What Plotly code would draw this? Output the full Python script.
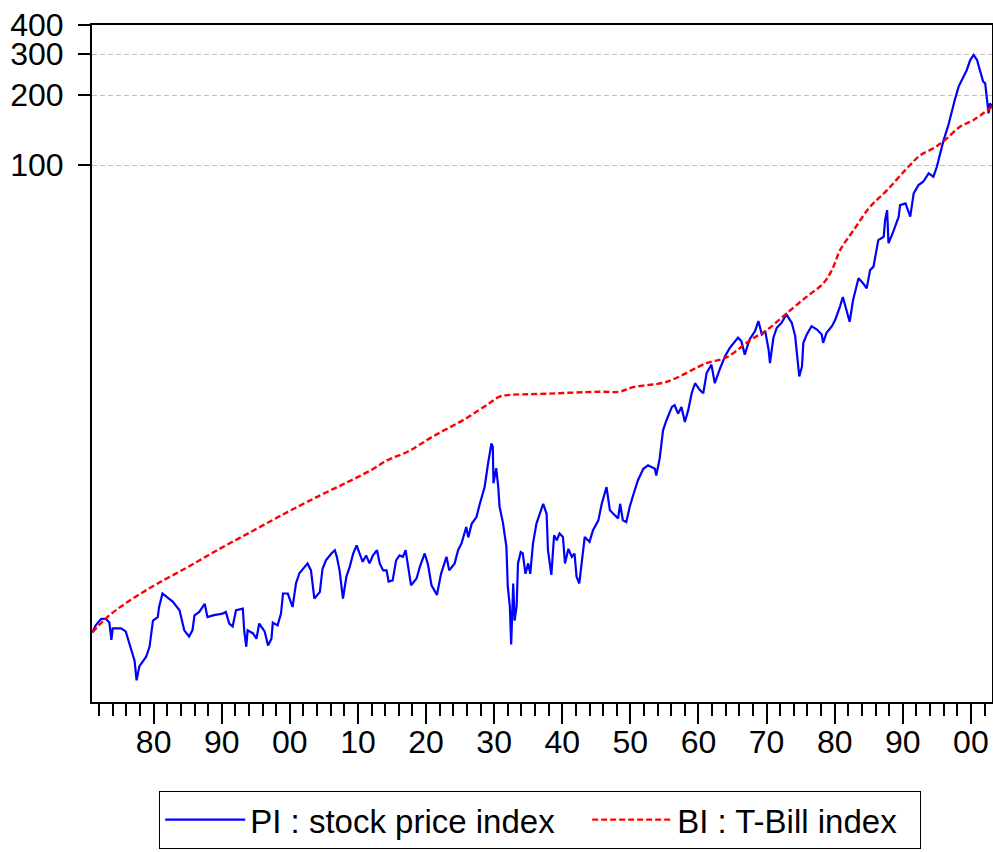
import plotly.graph_objects as go

# ---- data (decimal years, index values) ----
pi_years = [1871.0, 1871.5, 1872.3, 1873.0, 1873.5, 1873.8, 1874.0, 1875.2, 1875.9, 1876.3,
            1876.7, 1877.2, 1877.5, 1877.9, 1878.9, 1879.4, 1879.9, 1880.6, 1880.8, 1881.3,
            1882.1, 1882.8, 1883.8, 1884.5, 1885.2, 1885.7, 1886.0, 1886.7, 1887.5, 1887.9,
            1888.7, 1890.1, 1890.6, 1891.1, 1891.6, 1892.1, 1893.1, 1893.3, 1893.6, 1893.8,
            1894.6, 1895.1, 1895.5, 1896.3, 1896.8, 1897.3, 1897.5, 1898.2, 1898.7, 1899.0,
            1899.7, 1900.4, 1900.9, 1901.4, 1902.6, 1903.1, 1903.6, 1904.4, 1904.8, 1905.3,
            1906.1, 1906.6, 1906.9, 1907.3, 1907.8, 1908.3, 1908.8, 1909.3, 1909.8, 1910.2,
            1910.7, 1911.2, 1911.7, 1912.2, 1912.8, 1913.2, 1913.7, 1914.2, 1914.5, 1915.1,
            1915.6, 1916.1, 1916.6, 1917.0, 1917.3, 1917.8, 1918.6, 1919.1, 1919.8, 1920.3,
            1920.8, 1921.6, 1922.2, 1923.0, 1923.4, 1924.2, 1924.7, 1925.2, 1925.9, 1926.2,
            1926.7, 1927.4, 1927.9, 1928.4, 1928.6, 1929.1, 1929.6, 1929.8, 1929.9, 1930.3,
            1930.6, 1930.8, 1931.3, 1931.8, 1932.0, 1932.3, 1932.5, 1932.8, 1933.0, 1933.3,
            1933.5, 1933.9, 1934.2, 1934.6, 1935.0, 1935.3, 1935.7, 1936.2, 1936.7, 1937.2,
            1937.7, 1937.9, 1938.4, 1938.8, 1939.2, 1939.6, 1940.1, 1940.4, 1940.9, 1941.4,
            1941.8, 1942.1, 1942.5, 1942.8, 1943.3, 1944.0, 1944.5, 1945.3, 1945.8, 1946.5,
            1947.0, 1947.5, 1948.2, 1948.5, 1948.9, 1949.4, 1949.9, 1950.4, 1951.1, 1951.9,
            1952.6, 1953.6, 1953.8, 1954.3, 1954.8, 1955.3, 1956.1, 1956.5, 1957.0, 1957.5,
            1958.0, 1958.5, 1959.0, 1959.5, 1960.2, 1960.7, 1961.2, 1961.9, 1962.4, 1963.2,
            1963.9, 1964.6, 1965.8, 1966.3, 1966.8, 1967.5, 1968.3, 1968.8, 1969.3, 1969.8,
            1970.3, 1970.5, 1971.0, 1971.5, 1972.2, 1972.9, 1973.7, 1974.2, 1974.5, 1974.8,
            1975.2, 1975.4, 1975.9, 1976.6, 1977.4, 1978.1, 1978.3, 1978.8, 1979.6, 1980.1,
            1980.8, 1981.2, 1982.2, 1982.7, 1983.5, 1984.2, 1984.7, 1985.2, 1985.7, 1986.4,
            1987.2, 1987.4, 1987.7, 1987.9, 1988.6, 1989.4, 1989.6, 1990.4, 1991.1, 1991.6,
            1992.3, 1993.0, 1993.8, 1994.5, 1995.0, 1995.5, 1996.0, 1996.7, 1997.2, 1997.7,
            1998.2, 1998.9, 1999.4, 1999.9, 2000.4, 2000.9, 2001.4, 2001.8, 2002.1, 2002.3,
            2002.6, 2002.8, 2003.1]
pi_values = [0.98, 1.05, 1.12, 1.12, 1.08, 0.91, 1.02, 1.02, 0.99, 0.91,
             0.82, 0.74, 0.61, 0.70, 0.77, 0.85, 1.10, 1.14, 1.26, 1.44,
             1.38, 1.33, 1.22, 1.00, 0.94, 1.00, 1.16, 1.20, 1.30, 1.14,
             1.16, 1.18, 1.20, 1.07, 1.04, 1.22, 1.24, 1.00, 0.85, 1.00,
             0.97, 0.92, 1.07, 0.99, 0.86, 0.92, 1.08, 1.05, 1.18, 1.44,
             1.44, 1.26, 1.59, 1.76, 1.94, 1.81, 1.37, 1.46, 1.84, 2.00,
             2.14, 2.21, 2.07, 1.81, 1.37, 1.70, 1.88, 2.14, 2.32, 2.17,
             1.97, 2.10, 1.94, 2.10, 2.21, 1.94, 1.81, 1.81, 1.62, 1.64,
             2.00, 2.10, 2.07, 2.21, 1.94, 1.56, 1.67, 1.88, 2.14, 1.91,
             1.56, 1.42, 1.75, 2.07, 1.81, 1.94, 2.21, 2.36, 2.78, 2.51,
             2.87, 3.07, 3.50, 4.00, 4.13, 5.20, 6.36, 6.15, 4.29, 4.98,
             4.13, 3.39, 2.89, 2.28, 1.54, 1.27, 0.87, 1.59, 1.10, 1.27,
             1.94, 2.17, 2.14, 1.75, 1.94, 1.75, 2.36, 2.87, 3.17, 3.50,
             3.17, 2.21, 1.73, 2.56, 2.44, 2.61, 2.52, 1.94, 2.24, 2.07,
             2.14, 1.70, 1.59, 1.94, 2.52, 2.40, 2.69, 2.97, 3.50, 4.13,
             3.28, 3.17, 3.03, 3.50, 2.97, 2.92, 3.39, 3.80, 4.41, 4.95,
             5.12, 4.95, 4.63, 5.47, 7.24, 8.00, 9.13, 9.29, 8.54, 9.13,
             7.87, 8.84, 10.45, 11.54, 10.78, 10.45, 12.76, 13.87, 11.54, 13.42,
             15.07, 16.38, 18.10, 17.50, 15.32, 17.80, 19.32, 21.35, 18.70, 19.32,
             16.07, 14.08, 18.10, 19.99, 20.99, 22.80, 20.99, 18.40, 15.07, 12.34,
             13.63, 17.22, 18.70, 20.30, 19.64, 18.70, 17.22, 19.00, 20.30, 21.70,
             24.77, 27.10, 21.20, 26.30, 32.60, 30.96, 29.50, 35.35, 36.60, 47.60,
             49.20, 58.00, 64.00, 46.10, 51.70, 60.00, 67.30, 68.40, 60.00, 75.60,
             82.00, 84.80, 92.10, 89.10, 98.30, 112.3, 128.1, 148.6, 172.5, 193.6,
             217.4, 240.1, 256.3, 282.8, 297.3, 282.8, 251.8, 228.3, 224.6, 203.4,
             167.0, 184.3, 178.3]

bi_years = [1871.0, 1873.2, 1876.1, 1880.1, 1885.0, 1889.8, 1894.8, 1899.7, 1904.5, 1908.5,
            1911.9, 1914.4, 1917.3, 1921.0, 1925.9, 1929.3, 1930.8, 1932.3, 1936.7, 1945.5,
            1948.4, 1950.4, 1955.3, 1961.2, 1964.1, 1967.6, 1970.0, 1972.9, 1975.9, 1978.3,
            1979.6, 1980.8, 1982.8, 1985.2, 1987.7, 1990.6, 1992.6, 1994.5, 1996.2, 1998.4,
            2000.4, 2003.1]
bi_values = [0.98, 1.14, 1.32, 1.56, 1.87, 2.25, 2.70, 3.23, 3.81, 4.34,
             4.88, 5.40, 5.86, 6.81, 8.16, 9.47, 10.11, 10.28, 10.38, 10.61,
             10.61, 11.10, 11.70, 14.08, 14.90, 17.68, 19.50, 23.00, 27.20, 30.95,
             35.40, 43.10, 52.60, 66.20, 78.06, 96.80, 110.4, 118.0, 128.1, 146.1,
             156.2, 178.3]

x_tick_years = [1880, 1890, 1900, 1910, 1920, 1930, 1940, 1950, 1960, 1970, 1980, 1990, 2000]
x_tick_labels = ["80", "90", "00", "10", "20", "30", "40", "50", "60", "70", "80", "90", "00"]
x_minor_years = list(range(1872, 2004, 2))
y_tick_values = [100, 200, 300, 400]
y_tick_labels = ["100", "200", "300", "400"]
series_names = ["PI : stock price index", "BI : T-Bill index"]

FONT = "Liberation Sans, Arial, sans-serif"

fig = go.Figure()
fig.add_trace(go.Scatter(x=pi_years, y=pi_values, mode="lines",
                         name=series_names[0] + "\u00a0\u00a0\u00a0",
                         line=dict(color="#0000FF", width=2.2)))
fig.add_trace(go.Scatter(x=bi_years, y=bi_values, mode="lines",
                         name=series_names[1] + "\u00a0\u00a0",
                         line=dict(color="#FF0000", width=2.4, dash="6px,3px", shape="spline")))

fig.update_layout(
    width=993, height=852,
    margin=dict(l=92, r=1, t=25, b=150, autoexpand=False),
    paper_bgcolor="white", plot_bgcolor="white",
    font=dict(family=FONT, size=32, color="black"),
    showlegend=True,
    legend=dict(orientation="h", x=0.498, xanchor="center", y=-0.131, yanchor="top",
                bordercolor="black", borderwidth=1, bgcolor="white",
                font=dict(family=FONT, size=33, color="black"),
                itemwidth=80, tracegroupgap=0),
)
fig.update_xaxes(
    range=[1870.95, 2003.1], tickmode="array", tickvals=x_tick_years, ticktext=x_tick_labels,
    ticks="outside", ticklen=20, tickwidth=1.5, tickcolor="black",
    showline=True, linecolor="black", linewidth=2, mirror=True,
    showgrid=False, zeroline=False, automargin=False, ticklabelstandoff=-9,
    ticklabeloverflow="allow",
    minor=dict(tickmode="array", tickvals=x_minor_years, ticks="outside", ticklen=12,
               tickwidth=1.5, tickcolor="black", showgrid=False),
    tickfont=dict(family=FONT, size=32, color="black"),
)
fig.update_yaxes(
    type="log", range=[-0.308, 2.6021], tickmode="array", tickvals=y_tick_values, ticktext=y_tick_labels,
    ticks="outside", ticklen=12, tickwidth=1.5, tickcolor="black",
    showline=True, linecolor="black", linewidth=2, mirror=True,
    showgrid=True, gridcolor="#c0c0c0", gridwidth=1, griddash="5px,3px",
    zeroline=False, ticklabelstandoff=8, automargin=False, ticklabeloverflow="allow",
    tickfont=dict(family=FONT, size=32, color="black"),
)

# remove the default 8px page margin so the 993x852 figure fills the window exactly
fig.write_html("out.html", config={"displayModeBar": False},
               post_script="document.body.style.margin='0';document.body.style.overflow='hidden';")
